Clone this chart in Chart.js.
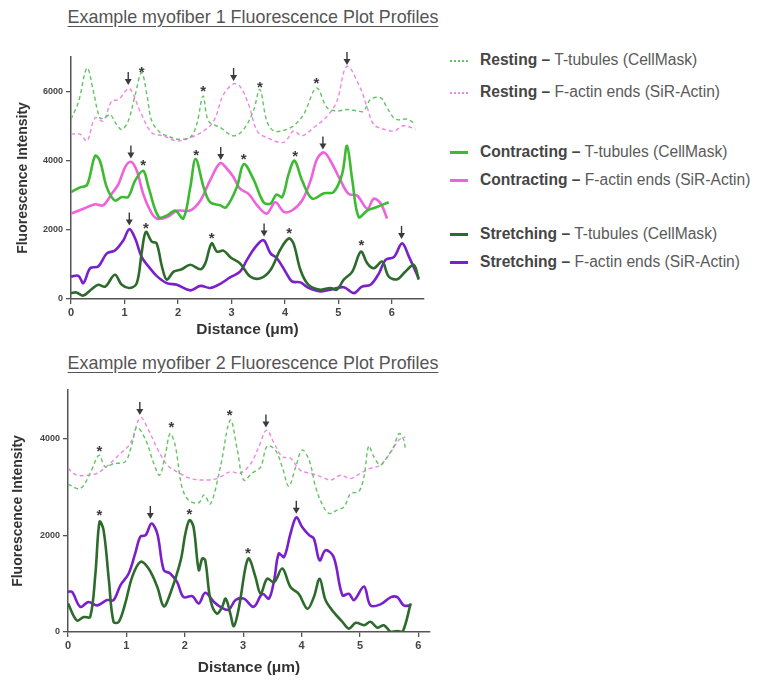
<!DOCTYPE html>
<html>
<head>
<meta charset="utf-8">
<script src="https://cdn.jsdelivr.net/npm/chart.js"></script>
<style>
  body { margin: 0; background: #fff; width: 758px; height: 680px; position: relative; overflow: hidden;
         font-family: "Liberation Sans", Arial, sans-serif; }
  .title { position: absolute; left: 60px; width: 386px; text-align: center; font-size: 17.9px; color: #555;
           text-decoration: underline; text-underline-offset: 3px; white-space: nowrap; }
  .panel { position: absolute; left: 0; width: 440px; height: 340px; }
  .row { position: absolute; left: 450px; white-space: nowrap; font-size: 15.6px; color: #5a5a5a; line-height: 18px; }
  .row .swatch { display: inline-block; width: 18px; height: 0; vertical-align: middle; margin-right: 12px; }
  .row b { color: #454545; }
</style>
</head>
<body>
<div class="title" style="top:7px;">Example myofiber 1 Fluorescence Plot Profiles</div>
<div class="panel" style="top:0;"><canvas id="fiber1"></canvas></div>
<div class="title" style="top:353px;">Example myofiber 2 Fluorescence Plot Profiles</div>
<div class="panel" style="top:340px;"><canvas id="fiber2"></canvas></div>
<div id="legend"></div>

<script>
// legend text
const states = ['Resting', 'Resting', 'Contracting', 'Contracting', 'Stretching', 'Stretching'];
const probes = ['T-tubules (CellMask)', 'F-actin ends (SiR-Actin)', 'T-tubules (CellMask)',
                'F-actin ends (SiR-Actin)', 'T-tubules (CellMask)', 'F-actin ends (SiR-Actin)'];
const colors = ['#62c462', '#ee86e6', '#3cbb32', '#ee62dc', '#2c6b2c', '#7a1fcc'];

// tick labels
const xTicks1 = [0, 1, 2, 3, 4, 5, 6];
const yTicks1 = [0, 2000, 4000, 6000];
const xTicks2 = [0, 1, 2, 3, 4, 5, 6];
const yTicks2 = [0, 2000, 4000];

// myofiber 1 profiles, [distance µm, intensity]
const f1RestTub = [[0,5200],[0.14,5700],[0.3,6680],[0.42,6000],[0.54,5240],[0.64,5250],[0.73,5340],[0.85,5050],[0.95,4900],[1.07,5150],[1.2,5900],[1.32,6550],[1.42,5900],[1.51,5150],[1.67,4810],[1.8,4720],[2.0,4620],[2.23,4680],[2.35,5050],[2.47,5870],[2.57,5150],[2.79,4960],[3.04,4720],[3.23,4910],[3.41,5440],[3.53,6060],[3.66,5150],[3.79,4860],[3.98,4880],[4.16,5010],[4.35,5340],[4.59,6100],[4.79,5530],[4.97,5440],[5.16,5480],[5.35,5440],[5.47,5430],[5.6,5770],[5.79,5820],[5.91,5530],[6.07,5200],[6.29,5200],[6.44,5050]];
const f1RestAct = [[0,4770],[0.17,4770],[0.3,4570],[0.45,5240],[0.6,5150],[0.76,5720],[0.89,5770],[1.07,6090],[1.14,6000],[1.29,5440],[1.51,4810],[1.73,4720],[1.98,4570],[2.23,4670],[2.48,4860],[2.67,5150],[2.85,5910],[3.04,6220],[3.16,6150],[3.32,5630],[3.48,4860],[3.66,4670],[3.98,4530],[4.16,4860],[4.32,4720],[4.54,4960],[4.79,5290],[4.97,5720],[5.16,6730],[5.41,6100],[5.54,5530],[5.66,5050],[5.85,4910],[6.04,4860],[6.22,5010],[6.44,4910]];
const f1ConTub = [[0,3090],[0.17,3230],[0.3,3300],[0.45,4140],[0.54,4000],[0.67,3230],[0.82,2850],[0.95,2950],[1.07,2950],[1.2,3430],[1.35,3710],[1.45,3230],[1.64,2370],[1.8,2420],[1.95,2560],[2.1,2330],[2.23,3230],[2.33,4050],[2.48,3230],[2.6,2800],[2.79,2710],[2.9,2650],[3.1,3230],[3.23,3900],[3.41,3470],[3.6,2800],[3.73,2760],[3.84,3020],[3.95,2950],[4.07,3620],[4.18,4000],[4.32,3430],[4.51,2900],[4.73,3060],[4.91,3090],[5.07,3620],[5.16,4430],[5.26,3430],[5.38,2370],[5.54,2560],[5.72,2660],[5.94,2800]];
const f1ConAct = [[0,2470],[0.23,2610],[0.45,2740],[0.6,2710],[0.76,3040],[0.89,3330],[1.01,3810],[1.12,3970],[1.23,3710],[1.35,3040],[1.48,2560],[1.6,2330],[1.8,2370],[1.98,2550],[2.23,2560],[2.42,2850],[2.6,3430],[2.79,3930],[2.92,3760],[3.04,3520],[3.16,3190],[3.32,3040],[3.48,2710],[3.66,2470],[3.82,2800],[3.98,2520],[4.13,2560],[4.32,2850],[4.48,3430],[4.6,4050],[4.73,4240],[4.85,4000],[5.04,3430],[5.19,3040],[5.35,2990],[5.54,2610],[5.66,2900],[5.79,2760],[5.91,2330]];
const f1StrTub = [[0,170],[0.1,190],[0.23,100],[0.39,290],[0.51,410],[0.64,360],[0.82,700],[0.95,410],[1.1,320],[1.23,460],[1.32,1320],[1.4,1940],[1.51,1660],[1.6,1610],[1.7,940],[1.79,560],[1.92,790],[2.07,860],[2.23,990],[2.42,860],[2.51,1030],[2.63,1610],[2.73,1370],[2.85,1400],[2.98,1210],[3.16,1030],[3.35,650],[3.54,600],[3.73,840],[3.91,1420],[4.07,1750],[4.16,1610],[4.29,840],[4.44,410],[4.66,270],[4.85,320],[4.97,270],[5.1,560],[5.26,790],[5.42,1370],[5.54,1030],[5.66,890],[5.82,1080],[5.94,650],[6.1,570],[6.25,790],[6.41,990],[6.5,560]];
const f1StrAct = [[0,650],[0.14,670],[0.23,460],[0.36,890],[0.51,940],[0.67,1320],[0.82,1400],[0.98,1700],[1.09,2020],[1.2,1750],[1.32,1220],[1.45,940],[1.6,670],[1.79,460],[1.98,410],[2.23,250],[2.42,380],[2.6,320],[2.79,440],[2.98,630],[3.16,790],[3.29,1130],[3.45,1510],[3.6,1700],[3.73,1320],[3.85,1180],[4.01,790],[4.13,510],[4.29,480],[4.44,320],[4.66,220],[4.91,290],[5.1,340],[5.29,170],[5.44,360],[5.6,410],[5.76,750],[5.88,1130],[6.04,1220],[6.19,1610],[6.32,1220],[6.5,600]];

// myofiber 2 profiles
const f2RestTub = [[0,3055],[0.21,2965],[0.38,3280],[0.53,3650],[0.64,3410],[0.78,3480],[0.98,3520],[1.1,3900],[1.18,4230],[1.33,3970],[1.47,3480],[1.57,3240],[1.67,3690],[1.75,4100],[1.84,3830],[1.95,3000],[2.07,2720],[2.24,2670],[2.33,2830],[2.44,2650],[2.61,3410],[2.78,4380],[2.9,3760],[3.01,3140],[3.15,3280],[3.3,3410],[3.41,3840],[3.55,3760],[3.67,3410],[3.78,3010],[3.9,3410],[4.01,3760],[4.13,3550],[4.24,3000],[4.35,2650],[4.47,2450],[4.61,2520],[4.73,2590],[4.84,2860],[4.98,2900],[5.07,3210],[5.15,3840],[5.24,3620],[5.35,3450],[5.47,3620],[5.58,3830],[5.67,4100],[5.75,3970],[5.78,3760]];
const f2RestAct = [[0,3380],[0.15,3240],[0.33,3240],[0.5,3280],[0.67,3430],[0.9,3690],[1.07,3900],[1.24,4430],[1.38,4170],[1.53,3790],[1.7,3450],[1.87,3310],[2.1,3170],[2.33,3140],[2.55,3170],[2.78,3310],[2.95,3280],[3.13,3480],[3.27,3830],[3.4,4170],[3.53,3900],[3.67,3620],[3.81,3590],[3.98,3340],[4.15,3280],[4.33,3210],[4.5,3140],[4.67,3240],[4.84,3170],[5.01,3280],[5.18,3380],[5.35,3450],[5.53,3720],[5.67,3970],[5.78,4030]];
const f2StrTub = [[0,590],[0.15,240],[0.27,310],[0.38,310],[0.47,1210],[0.54,2280],[0.61,2100],[0.7,1070],[0.78,210],[0.87,210],[0.98,590],[1.1,1140],[1.24,1450],[1.38,1310],[1.53,930],[1.64,530],[1.75,790],[1.93,1480],[2.01,2030],[2.08,2310],[2.15,2170],[2.24,1280],[2.3,1520],[2.35,1480],[2.44,660],[2.55,380],[2.64,520],[2.7,690],[2.78,380],[2.84,120],[2.93,520],[3.04,1340],[3.1,1520],[3.21,1140],[3.3,790],[3.41,1100],[3.53,1030],[3.67,1310],[3.81,930],[3.95,790],[4.1,480],[4.21,720],[4.31,1100],[4.41,660],[4.55,410],[4.7,210],[4.81,70],[4.93,190],[5.07,140],[5.18,210],[5.3,90],[5.41,140],[5.53,0],[5.64,20],[5.73,0],[5.87,590]];
const f2StrAct = [[0,830],[0.07,830],[0.21,520],[0.35,620],[0.5,550],[0.67,660],[0.78,660],[0.9,970],[1.04,1210],[1.15,1620],[1.24,1970],[1.33,2000],[1.43,2240],[1.53,2030],[1.64,1280],[1.75,1210],[1.87,1030],[1.98,720],[2.13,740],[2.24,590],[2.35,810],[2.5,620],[2.61,520],[2.75,460],[2.87,660],[3.01,690],[3.18,520],[3.33,790],[3.44,690],[3.53,1070],[3.61,1620],[3.7,1550],[3.81,2030],[3.91,2370],[4.01,2170],[4.13,2000],[4.21,1930],[4.31,1480],[4.41,1690],[4.55,1550],[4.7,760],[4.81,790],[4.9,660],[5.07,940],[5.18,550],[5.35,570],[5.53,720],[5.64,720],[5.75,550],[5.87,550]];

// peak markers (arrow = F-actin peak, star = T-tubule peak)
const f1Arrows = [[1.07,6390],[3.04,6510],[5.16,6970],[1.12,4270],[2.8,4220],[4.71,4530],[1.09,2330],[3.61,2010],[6.18,1940]];
const f1Stars = [[1.32,6630],[2.47,6090],[3.53,6200],[4.59,6320],[1.35,3950],[2.34,4240],[3.23,4120],[4.19,4210],[1.40,2130],[2.63,1840],[4.08,1970],[5.43,1610]];
const f2Arrows = [[1.23,4630],[3.39,4370],[1.41,2480],[3.91,2590]];
const f2Stars = [[0.54,3790],[1.77,4280],[2.77,4520],[0.54,2460],[2.08,2480],[3.08,1680]];

const axisColor = '#555';

function line(points, i) {
    const resting = i < 2;
    return {
        label: states[i] + ' – ' + probes[i],
        data: points.map(p => ({ x: p[0], y: p[1] })),
        borderColor: colors[i],
        borderWidth: resting ? 1.4 : 2.6,
        borderDash: resting ? [4, 3] : [],
        pointRadius: 0,
        tension: 0.35,
        fill: false
    };
}

const markers = {
    id: 'markers',
    afterDatasetsDraw(chart, args, opts) {
        const { ctx, scales: { x, y } } = chart;
        ctx.save();
        ctx.strokeStyle = '#3a3a3a';
        ctx.fillStyle = '#3a3a3a';
        ctx.lineWidth = 1.4;
        opts.arrows.forEach(a => {
            const px = x.getPixelForValue(a[0]), py = y.getPixelForValue(a[1]);
            ctx.beginPath();
            ctx.moveTo(px, py - 6);
            ctx.lineTo(px, py + 4);
            ctx.stroke();
            ctx.beginPath();
            ctx.moveTo(px - 3.5, py + 1);
            ctx.lineTo(px + 3.5, py + 1);
            ctx.lineTo(px, py + 7);
            ctx.closePath();
            ctx.fill();
        });
        ctx.font = 'bold 15px "Liberation Sans"';
        ctx.textAlign = 'center';
        ctx.textBaseline = 'middle';
        opts.stars.forEach(s => {
            const px = x.getPixelForValue(s[0]), py = y.getPixelForValue(s[1]);
            ctx.fillText('*', px, py + 3);
        });
        ctx.restore();
    }
};

function makeChart(id, sets, arrows, stars, xMax, yMax, xTicks, yTicks, box) {
    new Chart(document.getElementById(id), {
        type: 'line',
        data: { datasets: sets },
        plugins: [markers],
        options: {
            responsive: true,
            maintainAspectRatio: false,
            animation: false,
            layout: { padding: { top: box.top, right: box.right, left: 0, bottom: 0 } },
            plugins: {
                legend: { display: false },
                tooltip: { enabled: false },
                markers: { arrows: arrows, stars: stars }
            },
            scales: {
                x: {
                    type: 'linear',
                    min: 0,
                    max: xMax,
                    afterFit: s => { s.height = box.xAxisH; },
                    afterBuildTicks: s => { s.ticks = xTicks.map(v => ({ value: v })); },
                    ticks: { color: '#444', font: { family: 'Liberation Sans', size: 11, weight: 'bold' }, padding: 2 },
                    grid: { drawOnChartArea: false, drawTicks: true, tickLength: 5, color: axisColor, lineWidth: 1.3 },
                    border: { color: axisColor, width: 1.5 },
                    title: { display: true, text: 'Distance (μm)', color: '#333',
                             font: { family: 'Liberation Sans', size: 15.5, weight: 'bold' },
                             padding: { top: 0, bottom: box.xTitlePad } }
                },
                y: {
                    min: 0,
                    max: yMax,
                    afterFit: s => { s.width = box.left; },
                    afterBuildTicks: s => { s.ticks = yTicks.map(v => ({ value: v })); },
                    ticks: { color: '#444', font: { family: 'Liberation Sans', size: 9, weight: 'bold' }, padding: 3,
                             callback: v => String(v) },
                    grid: { drawOnChartArea: false, drawTicks: true, tickLength: 5, color: axisColor, lineWidth: 1.3 },
                    border: { color: axisColor, width: 1.5 },
                    title: { display: true, text: 'Fluorescence Intensity', color: '#333',
                             font: { family: 'Liberation Sans', size: 14, weight: 'bold' },
                             padding: { top: box.yTitlePad, bottom: 0 } }
                }
            }
        }
    });
}

makeChart('fiber1',
    [line(f1RestTub, 0), line(f1RestAct, 1), line(f1ConTub, 2), line(f1ConAct, 3), line(f1StrTub, 4), line(f1StrAct, 5)],
    f1Arrows, f1Stars, 6.6, 7000, xTicks1, yTicks1,
    { top: 57, right: 16, left: 71, xAxisH: 41, xTitlePad: 1, yTitlePad: 15 });

makeChart('fiber2',
    [line(f2RestTub, 0), line(f2RestAct, 1), line(f2StrTub, 4), line(f2StrAct, 5)],
    f2Arrows, f2Stars, 6.2, 5000, xTicks2, yTicks2,
    { top: 50, right: 10, left: 68, xAxisH: 48, xTitlePad: 3, yTitlePad: 10 });

// legend for the first panel
const rowCenters = [60, 92, 152, 180, 234, 262];
const legend = document.getElementById('legend');
states.forEach((st, i) => {
    const row = document.createElement('div');
    row.className = 'row';
    row.style.top = (rowCenters[i] - 9) + 'px';
    const sw = document.createElement('span');
    sw.className = 'swatch';
    sw.style.borderTop = i < 2 ? '2px dotted ' + colors[i] : '3px solid ' + colors[i];
    row.appendChild(sw);
    const b = document.createElement('b');
    b.textContent = st + ' –';
    row.appendChild(b);
    row.appendChild(document.createTextNode(' ' + probes[i]));
    legend.appendChild(row);
});
</script>
</body>
</html>
